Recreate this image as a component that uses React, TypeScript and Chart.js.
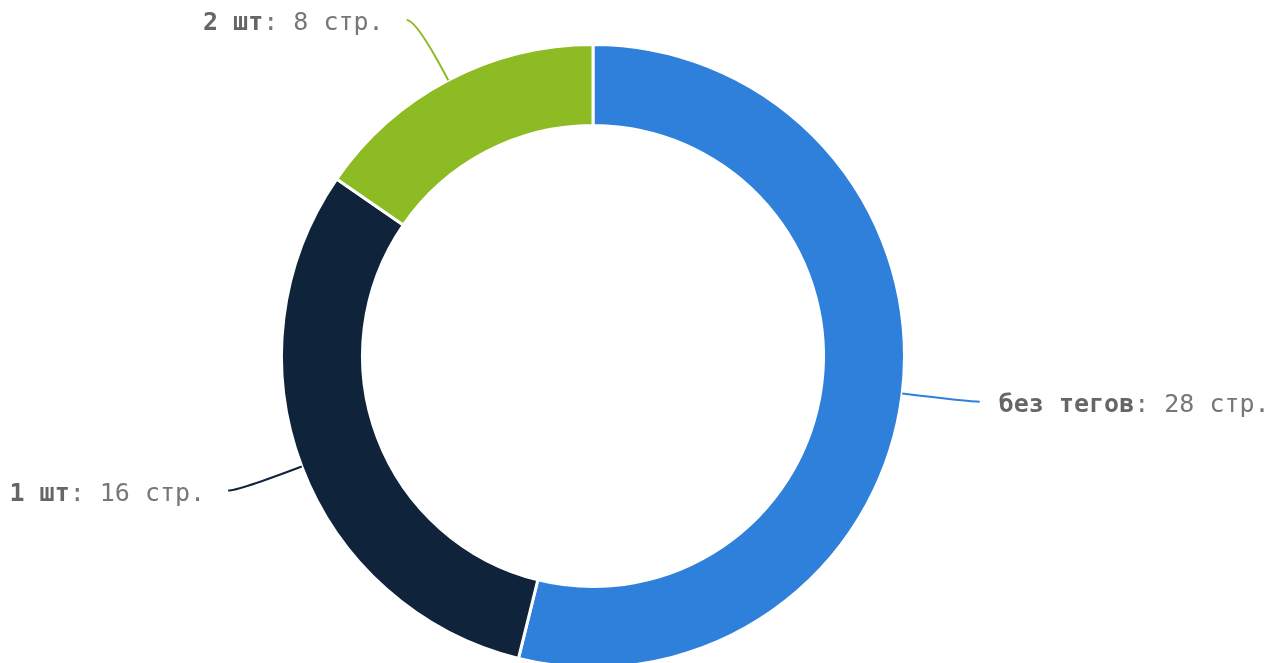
import React, { useEffect, useRef } from "react";
import { Chart, registerables } from "chart.js";

Chart.register(...registerables);

const categories = ["без тегов", "1 шт", "2 шт"];
const values = [28, 16, 8];
const unit = "стр.";
const colors = ["#2F80DB", "#0F233A", "#8CBB23"];

const leaderPlugin = {
  id: "leaderLabels",
  afterDraw(chart: any) {
    const ctx = chart.ctx;
    const meta = chart.getDatasetMeta(0);
    const ds = chart.data.datasets[0];
    meta.data.forEach((arc: any, i: number) => {
      const p = arc.getProps(["x", "y", "startAngle", "endAngle", "outerRadius"], true);
      const mid = (p.startAngle + p.endAngle) / 2;
      const cos = Math.cos(mid);
      const sin = Math.sin(mid);
      const r0 = p.outerRadius;
      const sx = p.x + cos * r0;
      const sy = p.y + sin * r0;
      const ext = 68;
      const cx = p.x + cos * (r0 + ext);
      const cy = p.y + sin * (r0 + ext);
      const right = cos >= 0;
      const ex = cx + (right ? 10 : -10);
      const ey = cy;
      ctx.save();
      ctx.strokeStyle = ds.backgroundColor[i];
      ctx.lineWidth = 2;
      ctx.beginPath();
      ctx.moveTo(sx, sy);
      ctx.quadraticCurveTo(cx, cy, ex, ey);
      ctx.stroke();

      const boldText = chart.data.labels[i];
      const restText = ": " + ds.data[i] + " " + unit;
      const boldFont = "bold 25px 'DejaVu Sans Mono'";
      const normFont = "25px 'DejaVu Sans Mono'";
      ctx.font = boldFont;
      const wb = ctx.measureText(boldText).width;
      ctx.font = normFont;
      const wr = ctx.measureText(restText).width;
      const tx = right ? ex + 19 : ex - 23 - wb - wr;
      const ty = ey + 4;
      ctx.textBaseline = "middle";
      ctx.textAlign = "left";
      ctx.font = boldFont;
      ctx.fillStyle = "#666666";
      ctx.fillText(boldText, tx, ty);
      ctx.font = normFont;
      ctx.fillStyle = "#777777";
      ctx.fillText(restText, tx + wb, ty);
      ctx.restore();
    });
  },
};

export default function App() {
  const ref = useRef<HTMLCanvasElement>(null);
  useEffect(() => {
    if (!ref.current) return;
    const chart = new Chart(ref.current, {
      type: "doughnut",
      data: {
        labels: categories,
        datasets: [
          {
            data: values,
            backgroundColor: colors,
            borderColor: "#ffffff",
            borderWidth: 3,
            hoverOffset: 0,
          },
        ],
      },
      options: {
        responsive: false,
        animation: false,
        cutout: "74%",
        layout: { padding: { top: 43, bottom: 11, left: 280, right: 372 } },
        plugins: {
          legend: { display: false },
          tooltip: { enabled: false },
        },
      },
      plugins: [leaderPlugin],
    });
    return () => chart.destroy();
  }, []);
  return (
    <div
      style={{
        position: "fixed",
        left: 0,
        top: 0,
        width: 1278,
        height: 663,
        overflow: "hidden",
        background: "#fff",
      }}
    >
      <canvas ref={ref} width={1278} height={680} style={{ display: "block" }} />
    </div>
  );
}
